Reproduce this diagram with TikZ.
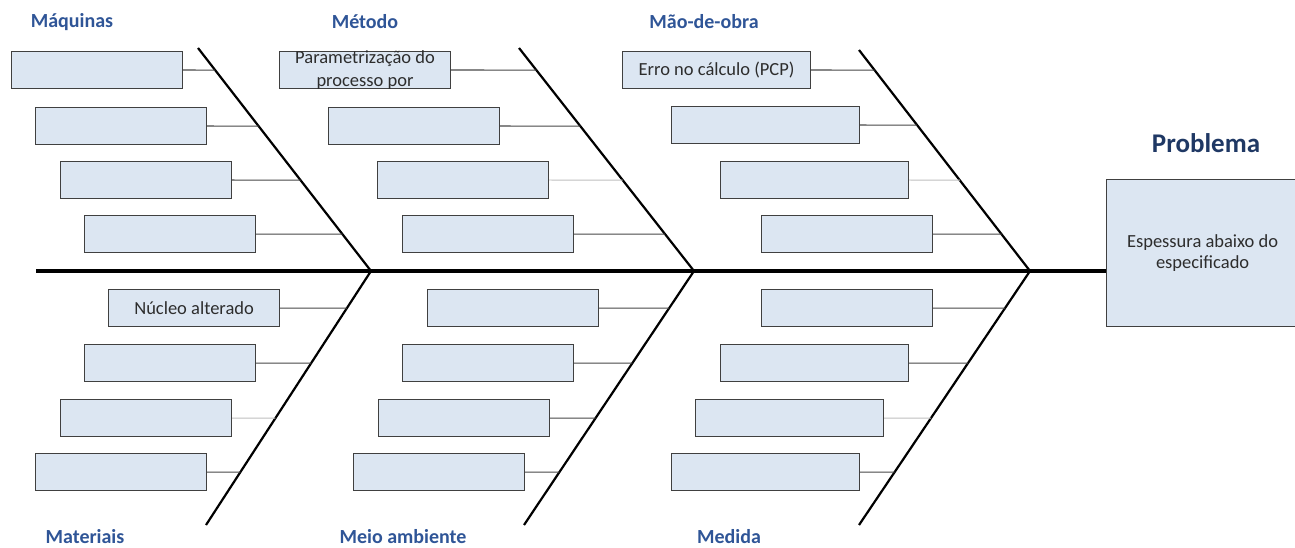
\documentclass[tikz,border=0pt]{standalone}
\usepackage{fontspec}
\setmainfont{Carlito}
\definecolor{catblue}{RGB}{47,85,151}
\definecolor{probblue}{RGB}{31,56,100}
\definecolor{boxfill}{RGB}{220,230,242}
\definecolor{boxline}{RGB}{64,64,64}
\definecolor{boxtext}{RGB}{45,45,45}
\definecolor{twigc}{RGB}{70,70,70}
\begin{document}
\begin{tikzpicture}[x=1pt,y=-1pt,
  cause/.style={draw=boxline, fill=boxfill, line width=1.2pt, minimum width=171pt,
    minimum height=37pt, inner sep=0pt, anchor=north west,
    font=\fontsize{18.5}{21}\selectfont, text=boxtext},
  widebox/.style={minimum width=188pt},
  bone/.style={line width=2.2pt, black},
  spine/.style={line width=4pt, black},
  twig/.style={draw=twigc, line width=1.2pt},
  lighttwig/.style={draw=black!25, line width=0.8pt},
  cat/.style={font=\fontsize{20}{24}\selectfont\bfseries, text=catblue}]
\useasboundingbox (0,0) rectangle (1295,548);

% bones
\coordinate (s0) at (36,271);
\coordinate (d1a) at (198,48);  \coordinate (j1) at (371,271);
\coordinate (d2a) at (519,48);  \coordinate (j2) at (694,271);
\coordinate (d3a) at (859,50);  \coordinate (j3) at (1030,271);
\coordinate (d4b) at (206,525);
\coordinate (d5b) at (524,525);
\coordinate (d6b) at (859,525);

% problem
\node[draw=boxline, fill=boxfill, line width=1.2pt, minimum width=192pt, minimum height=147pt,
  inner sep=0pt, anchor=north west, align=center, text=boxtext,
  font=\fontsize{18.5}{21}\selectfont] (prob) at (1106,179) {Espessura abaixo do\\especificado};
\node[font=\fontsize{27}{30}\selectfont\bfseries, text=probblue] (probl) at (1206,143) {Problema};

\draw[spine] (s0) -- (s0 -| prob.west);
\draw[bone] (d1a) -- (j1);
\draw[bone] (d2a) -- (j2);
\draw[bone] (d3a) -- (j3);
\draw[bone] (j1) -- (d4b);
\draw[bone] (j2) -- (d5b);
\draw[bone] (j3) -- (d6b);

% category labels
\node[cat] (lmaq) at (72,22) {Máquinas};
\node[cat] (lmet) at (365,22) {Método};
\node[cat] (lmao) at (704,22) {Mão-de-obra};
\node[cat] (lmat) at (85,537) {Materiais};
\node[cat] (lmei) at (403,537) {Meio ambiente};
\node[cat] (lmed) at (729,537) {Medida};

% Máquinas
\node[cause] (a1) at (11,51) {};
\node[cause] (a2) at (35,107) {};
\node[cause] (a3) at (60,161) {};
\node[cause] (a4) at (84,215) {};
% Método
\node[cause] (b1) at (279,51) {};
\begin{scope}
  \clip ([shift={(0.6pt,-0.6pt)}]b1.south west) rectangle ([shift={(-0.6pt,0.6pt)}]b1.north east);
  \node[text=boxtext, font=\fontsize{18.5}{21}\selectfont, inner sep=0pt, anchor=base] (b1t) at (365,64) {Parametrização do};
  \node[text=boxtext, font=\fontsize{18.5}{21}\selectfont, inner sep=0pt, anchor=base] (b1u) at (365,87) {processo por};
\end{scope}
\node[cause] (b2) at (328,107) {};
\node[cause] (b3) at (377,161) {};
\node[cause] (b4) at (402,215) {};
% Mão-de-obra
\node[cause, widebox] (c1) at (622,51) {Erro no cálculo (PCP)};
\node[cause, widebox] (c2) at (671,106) {};
\node[cause, widebox] (c3) at (720,161) {};
\node[cause] (c4) at (761,215) {};
% Materiais
\node[cause] (e1) at (108,289) {Núcleo alterado};
\node[cause] (e2) at (84,344) {};
\node[cause] (e3) at (60,399) {};
\node[cause] (e4) at (35,453) {};
% Meio ambiente
\node[cause] (f1) at (427,289) {};
\node[cause] (f2) at (402,344) {};
\node[cause] (f3) at (378,399) {};
\node[cause] (f4) at (353,453) {};
% Medida
\node[cause] (g1) at (761,289) {};
\node[cause, widebox] (g2) at (720,344) {};
\node[cause, widebox] (g3) at (695,399) {};
\node[cause, widebox] (g4) at (671,453) {};

% connectors
\draw[twig] (a1.east) -- (intersection of d1a--j1 and a1.east--a1.west);
\draw[twig] (a2.east) -- (intersection of d1a--j1 and a2.east--a2.west);
\draw[twig] (a3.east) -- (intersection of d1a--j1 and a3.east--a3.west);
\draw[twig] (a4.east) -- (intersection of d1a--j1 and a4.east--a4.west);
\draw[twig] (b1.east) -- (intersection of d2a--j2 and b1.east--b1.west);
\draw[twig] (b2.east) -- (intersection of d2a--j2 and b2.east--b2.west);
\draw[lighttwig] (b3.east) -- (intersection of d2a--j2 and b3.east--b3.west);
\draw[twig] (b4.east) -- (intersection of d2a--j2 and b4.east--b4.west);
\draw[twig] (c1.east) -- (intersection of d3a--j3 and c1.east--c1.west);
\draw[twig] (c2.east) -- (intersection of d3a--j3 and c2.east--c2.west);
\draw[lighttwig] (c3.east) -- (intersection of d3a--j3 and c3.east--c3.west);
\draw[twig] (c4.east) -- (intersection of d3a--j3 and c4.east--c4.west);
\draw[twig] (e1.east) -- (intersection of j1--d4b and e1.east--e1.west);
\draw[twig] (e2.east) -- (intersection of j1--d4b and e2.east--e2.west);
\draw[lighttwig] (e3.east) -- (intersection of j1--d4b and e3.east--e3.west);
\draw[twig] (e4.east) -- (intersection of j1--d4b and e4.east--e4.west);
\draw[twig] (f1.east) -- (intersection of j2--d5b and f1.east--f1.west);
\draw[twig] (f2.east) -- (intersection of j2--d5b and f2.east--f2.west);
\draw[twig] (f3.east) -- (intersection of j2--d5b and f3.east--f3.west);
\draw[twig] (f4.east) -- (intersection of j2--d5b and f4.east--f4.west);
\draw[twig] (g1.east) -- (intersection of j3--d6b and g1.east--g1.west);
\draw[twig] (g2.east) -- (intersection of j3--d6b and g2.east--g2.west);
\draw[lighttwig] (g3.east) -- (intersection of j3--d6b and g3.east--g3.west);
\draw[twig] (g4.east) -- (intersection of j3--d6b and g4.east--g4.west);
\end{tikzpicture}
\end{document}
